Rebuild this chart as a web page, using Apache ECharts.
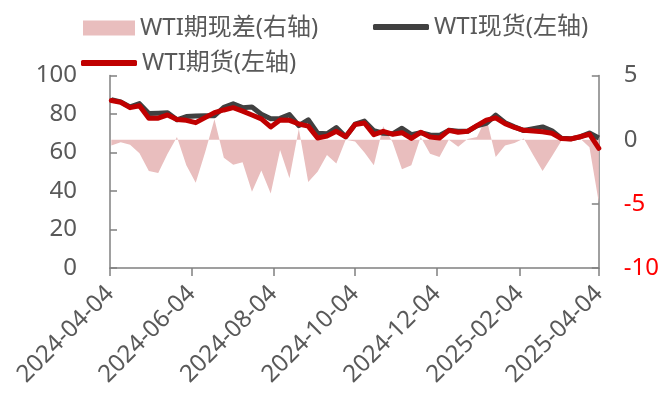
<!DOCTYPE html>
<html>
<head>
<meta charset="utf-8">
<script src="https://cdn.jsdelivr.net/npm/echarts@6/dist/echarts.min.js"></script>
<style>
  html, body { margin: 0; padding: 0; background: #fff; }
  #chart { width: 662px; height: 398px; }
</style>
</head>
<body>
<div id="chart"></div>
<script>
// Weekly observation dates (Fridays)
const weekDates = [
  '2024-04-05','2024-04-12','2024-04-19','2024-04-26','2024-05-03','2024-05-10','2024-05-17','2024-05-24','2024-05-31',
  '2024-06-07','2024-06-14','2024-06-21','2024-06-28','2024-07-05','2024-07-12','2024-07-19','2024-07-26',
  '2024-08-02','2024-08-09','2024-08-16','2024-08-23','2024-08-30','2024-09-06','2024-09-13','2024-09-20','2024-09-27',
  '2024-10-04','2024-10-11','2024-10-18','2024-10-25','2024-11-01','2024-11-08','2024-11-15','2024-11-22','2024-11-29',
  '2024-12-06','2024-12-13','2024-12-20','2024-12-27','2025-01-03','2025-01-10','2025-01-17','2025-01-24','2025-01-31',
  '2025-02-07','2025-02-14','2025-02-21','2025-02-28','2025-03-07','2025-03-14','2025-03-21','2025-03-28','2025-04-04'
];

// WTI futures, USD/bbl (left axis)
const futures = [
  87.0, 86.1, 83.3, 84.3, 77.8, 77.8, 79.5, 77.2, 76.7,
  75.5, 78.1, 80.7, 82.1, 83.3, 81.5, 79.5, 77.5,
  73.3, 76.9, 76.7, 74.8, 73.7, 67.5, 68.5, 71.0, 68.2,
  74.5, 75.3, 69.3, 71.0, 69.5, 70.3, 67.3, 70.5, 68.0,
  67.5, 71.5, 70.5, 71.0, 74.0, 76.8, 78.0, 75.0, 73.0,
  71.5, 71.2, 70.8, 70.0, 67.3, 67.0, 68.2, 69.5, 62.2
];

// WTI spot, USD/bbl (left axis)
const spot = [
  87.5, 86.3, 83.7, 85.4, 80.3, 80.4, 80.6, 77.0, 78.7,
  78.9, 79.1, 79.1, 83.5, 85.3, 83.3, 83.6, 79.9,
  77.5, 77.7, 79.7, 74.0, 77.0, 70.0, 69.7, 72.9, 68.2,
  74.7, 76.3, 71.3, 70.0, 69.7, 72.6, 69.3, 70.3, 69.1,
  68.9, 71.5, 71.1, 71.0, 73.8, 75.1, 79.4, 75.5, 73.3,
  71.4, 72.4, 73.3, 71.3, 67.4, 67.1, 68.1, 70.1, 67.5
];

// Futures minus spot (right axis)
const spread = [
  -0.45, -0.2, -0.4, -1.05, -2.45, -2.6, -1.1, 0.2, -2.0,
  -3.35, -1.0, 1.6, -1.4, -1.95, -1.75, -4.05, -2.4,
  -4.2, -0.8, -3.0, 0.85, -3.3, -2.5, -1.2, -1.85, 0.0,
  -0.15, -1.0, -2.0, 1.05, -0.2, -2.3, -2.0, 0.2, -1.1,
  -1.35, 0.0, -0.55, 0.05, 0.2, 1.7, -1.35, -0.45, -0.25,
  0.1, -1.2, -2.45, -1.3, -0.1, -0.1, 0.1, -0.6, -4.9
];

// Dates that carry a tick and label on the time axis
const tickDates = ['2024-04-04','2024-06-04','2024-08-04','2024-10-04','2024-12-04','2025-02-04','2025-04-04'];

const leftTicks = { min: 0, max: 100, interval: 20 };
const rightTicks = { min: -10, max: 5, interval: 5 };

const NAME_SPREAD = 'WTI期现差(右轴)';
const NAME_SPOT = 'WTI现货(左轴)';
const NAME_FUT = 'WTI期货(左轴)';

// Daily category axis so weekly points sit at their calendar positions
function dayList(startStr, endStr) {
  const out = [];
  const pad = n => (n < 10 ? '0' : '') + n;
  const d = new Date(startStr + 'T00:00:00Z');
  const end = new Date(endStr + 'T00:00:00Z');
  while (d <= end) {
    out.push(d.getUTCFullYear() + '-' + pad(d.getUTCMonth() + 1) + '-' + pad(d.getUTCDate()));
    d.setUTCDate(d.getUTCDate() + 1);
  }
  return out;
}
const days = dayList(tickDates[0], tickDates[tickDates.length - 1]);

const pair = vals => weekDates.map((d, i) => [d, vals[i]]);

const FONT = "'Noto Sans', 'Noto Sans CJK SC', sans-serif";
const FS = 24;
const TEXT = '#595959';
const AXIS = '#808080';
const isTick = (idx, val) => tickDates.indexOf(val) >= 0;

const chart = echarts.init(document.getElementById('chart'), null, { renderer: 'canvas' });
chart.setOption({
  animation: false,
  textStyle: { fontFamily: FONT },
  grid: { left: 110, right: 62, top: 75.5, bottom: 130, containLabel: false },
  legend: [
    {
      left: 78, top: 11, itemWidth: 52, itemHeight: 15, itemGap: 40,
      data: [{ name: NAME_SPREAD, icon: 'rect' }],
      textStyle: { fontSize: FS, color: TEXT, fontFamily: FONT }
    },
    {
      left: 368, top: 10, itemWidth: 56, itemHeight: 6,
      data: [{ name: NAME_SPOT, icon: 'roundRect' }],
      textStyle: { fontSize: FS, color: TEXT, fontFamily: FONT }
    },
    {
      left: 76, top: 46, itemWidth: 56, itemHeight: 6,
      data: [{ name: NAME_FUT, icon: 'roundRect' }],
      textStyle: { fontSize: FS, color: TEXT, fontFamily: FONT }
    }
  ],
  xAxis: {
    type: 'category',
    data: days,
    boundaryGap: false,
    axisLine: { lineStyle: { color: AXIS, width: 1.5 } },
    axisTick: { interval: isTick, length: 8, lineStyle: { color: AXIS, width: 1.5 } },
    axisLabel: {
      interval: isTick, rotate: 45, margin: 22,
      fontSize: FS, color: TEXT, fontFamily: FONT
    },
    splitLine: { show: false }
  },
  yAxis: [
    {
      type: 'value', position: 'left',
      min: leftTicks.min, max: leftTicks.max, interval: leftTicks.interval,
      axisLine: { show: true, lineStyle: { color: AXIS, width: 1.5 } },
      axisTick: { show: true, inside: true, length: 7, lineStyle: { color: AXIS, width: 1.5 } },
      axisLabel: { margin: 33, fontSize: FS, color: TEXT, fontFamily: FONT },
      splitLine: { show: false }
    },
    {
      type: 'value', position: 'right',
      min: rightTicks.min, max: rightTicks.max, interval: rightTicks.interval,
      axisLine: { show: true, lineStyle: { color: AXIS, width: 1.5 } },
      axisTick: { show: true, inside: true, length: 7, lineStyle: { color: AXIS, width: 1.5 } },
      axisLabel: {
        margin: 25, fontSize: FS, fontFamily: FONT,
        color: v => (v < 0 ? '#FF0000' : TEXT)
      },
      splitLine: { show: false }
    }
  ],
  series: [
    {
      name: NAME_SPREAD, type: 'line', yAxisIndex: 1,
      data: pair(spread),
      symbol: 'none', showSymbol: false,
      color: '#E9BEBE',
      lineStyle: { width: 0, color: '#E9BEBE' },
      areaStyle: { color: '#E9BEBE', opacity: 1, origin: 0 },
      z: 1
    },
    {
      name: NAME_SPOT, type: 'line', yAxisIndex: 0,
      data: pair(spot),
      symbol: 'none', showSymbol: false,
      color: '#404040',
      lineStyle: { width: 5, color: '#404040', join: 'round' },
      z: 2
    },
    {
      name: NAME_FUT, type: 'line', yAxisIndex: 0,
      data: pair(futures),
      symbol: 'none', showSymbol: false,
      color: '#C00000',
      lineStyle: { width: 5, color: '#C00000', join: 'round', cap: 'round' },
      z: 3
    }
  ]
});
</script>
</body>
</html>
